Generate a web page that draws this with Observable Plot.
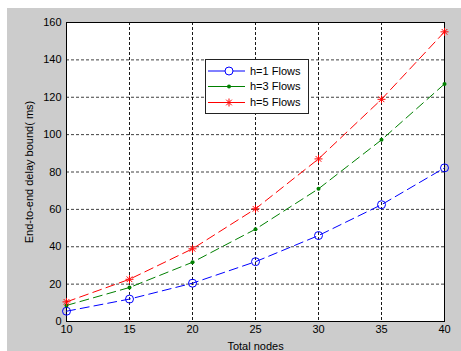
<!DOCTYPE html>
<html>
<head>
<meta charset="utf-8">
<script src="https://cdn.jsdelivr.net/npm/d3@7"></script>
<script src="https://cdn.jsdelivr.net/npm/@observablehq/plot@0.6"></script>
<style>
  html, body { margin: 0; padding: 0; background: #ffffff; }
  #wrap { position: absolute; left: 7px; top: 8px; width: 454px; height: 343px; background: #cccccc; overflow: hidden; }
  svg { display: block; }
</style>
</head>
<body>
<div id="wrap"></div>
<script>
const nodes = [10, 15, 20, 25, 30, 35, 40];
const seriesNames = ["h=1 Flows", "h=3 Flows", "h=5 Flows"];
const h1 = [5.5, 12, 20.5, 32, 46, 62.5, 82.2];
const h3 = [8.6, 18.2, 31.7, 49.4, 71, 97.2, 127.1];
const h5 = [10.5, 22.6, 38.9, 60.3, 87, 118.9, 155];
const xTicks = [10, 15, 20, 25, 30, 35, 40];
const yTicks = [0, 20, 40, 60, 80, 100, 120, 140, 160];
const colors = ["#0000ff", "#008000", "#ff0000"];

const seriesValues = [h1, h3, h5];
const rows = seriesValues.map((vals, i) => nodes.map((n, j) => ({x: n, y: vals[j], s: seriesNames[i]})));

// MATLAB-like 8-arm asterisk
const asterisk = {
  draw(ctx, size) {
    const r = Math.sqrt(size / Math.PI);
    const d = r * Math.SQRT1_2;
    ctx.moveTo(-r, 0); ctx.lineTo(r, 0);
    ctx.moveTo(0, -r); ctx.lineTo(0, r);
    ctx.moveTo(-d, -d); ctx.lineTo(d, d);
    ctx.moveTo(-d, d); ctx.lineTo(d, -d);
  }
};

const W = 454, H = 343;
const chart = Plot.plot({
  width: W, height: H,
  marginLeft: 59, marginRight: 17, marginTop: 14, marginBottom: 30,
  style: {fontFamily: "'Liberation Sans', Arial, sans-serif", fontSize: "11px", color: "#000", background: "transparent"},
  x: {domain: [10, 40]},
  y: {domain: [0, 160]},
  marks: [
    Plot.frame({fill: "white"}),
    Plot.gridX(xTicks, {stroke: "#000", strokeOpacity: 0.9, strokeDasharray: "3,2"}),
    Plot.gridY(yTicks, {stroke: "#000", strokeOpacity: 0.75, strokeDasharray: "3,2"}),
    Plot.frame({stroke: "#000", strokeWidth: 1}),
    Plot.axisX(xTicks, {tickSize: 0, tickPadding: 4, fontSize: 11, label: "Total nodes", labelAnchor: "center", labelArrow: "none", labelOffset: 28}),
    Plot.axisY(yTicks, {tickSize: 0, tickPadding: 5, fontSize: 11, label: "End-to-end delay bound( ms)", labelAnchor: "center", labelArrow: "none", labelOffset: 41}),
    ...rows.map((r, i) => Plot.line(r, {x: "x", y: "y", stroke: colors[i], strokeWidth: 1, strokeDasharray: "9,5"})),
    Plot.dot(rows[0], {x: "x", y: "y", symbol: "circle", r: 4, stroke: colors[0], fill: "none", strokeWidth: 1}),
    Plot.dot(rows[1], {x: "x", y: "y", symbol: "circle", r: 2, fill: colors[1], stroke: "none"}),
    Plot.dot(rows[2], {x: "x", y: "y", symbol: asterisk, r: 4, stroke: colors[2], fill: "none", strokeWidth: 1})
  ]
});
document.getElementById("wrap").appendChild(chart);

// Legend (MATLAB style box)
const svg = d3.select(chart);
const lg = svg.append("g").attr("transform", "translate(198,51)").attr("text-anchor", "start");
lg.append("rect").attr("x", 0.5).attr("y", 0.5).attr("width", 103).attr("height", 54)
  .attr("fill", "white").attr("stroke", "#222").attr("stroke-width", 1);
const rowY = [12, 27.5, 43.5];
seriesNames.forEach((name, i) => {
  const y = rowY[i];
  lg.append("line").attr("x1", 3).attr("x2", 40).attr("y1", y).attr("y2", y)
    .attr("stroke", colors[i]).attr("stroke-width", 1);
  const cx = 24;
  if (i === 0) {
    lg.append("circle").attr("cx", cx).attr("cy", y).attr("r", 4).attr("fill", "white").attr("stroke", colors[i]);
  } else if (i === 1) {
    lg.append("circle").attr("cx", cx).attr("cy", y).attr("r", 2).attr("fill", colors[i]);
  } else {
    const p = d3.path(); asterisk.draw(p, Math.PI * 16);
    lg.append("path").attr("d", p.toString()).attr("transform", `translate(${cx},${y})`)
      .attr("fill", "none").attr("stroke", colors[i]);
  }
  lg.append("text").attr("x", 45).attr("y", y).attr("dy", "0.35em").attr("text-anchor", "start")
    .attr("font-size", 11).attr("fill", "#000").text(name);
});
</script>
</body>
</html>
